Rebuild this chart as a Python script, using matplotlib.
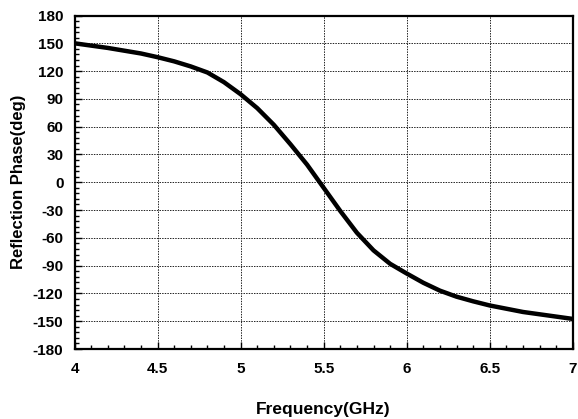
import numpy as np
import matplotlib
matplotlib.use('Agg')
import matplotlib.pyplot as plt
from matplotlib.ticker import MultipleLocator

# values
freq = [4.0, 4.1, 4.2, 4.3, 4.4, 4.5, 4.6, 4.7, 4.8, 4.9, 5.0, 5.1, 5.2,
        5.3, 5.4, 5.5, 5.6, 5.7, 5.8, 5.9, 6.0, 6.1, 6.2, 6.3, 6.4, 6.5,
        6.6, 6.7, 6.8, 6.9, 7.0]
phase = [150, 147.5, 145, 142, 139, 135, 130.5, 125, 118.5, 108, 95, 80, 62,
         41, 19, -6, -31, -54.5, -73.5, -88, -98.5, -108.5, -117, -123.5, -128.5, -133,
         -136.5, -140, -142.5, -145, -147.5]

x_ticks = [4, 4.5, 5, 5.5, 6, 6.5, 7]
x_labels = ['4', '4.5', '5', '5.5', '6', '6.5', '7']
y_ticks = list(range(-180, 181, 30))

plt.rcParams['font.family'] = ['Liberation Sans', 'DejaVu Sans']
plt.rcParams['font.weight'] = 'bold'
plt.rcParams['axes.unicode_minus'] = False

fig = plt.figure(figsize=(5.78, 4.19), dpi=100)
ax = fig.add_axes([0.129, 0.167, 0.862, 0.796])

ax.plot(freq, phase, color='black', linewidth=3.2, solid_joinstyle='round')

ax.set_xlim(4, 7)
ax.set_ylim(-180, 180)
ax.set_xticks(x_ticks)
ax.set_xticklabels(x_labels)
ax.set_yticks(y_ticks)
ax.xaxis.set_minor_locator(MultipleLocator(0.1))
ax.yaxis.set_minor_locator(MultipleLocator(6))

ax.grid(True, which='major', color='#222222', linestyle=(0, (1.5, 1.2)), linewidth=0.7)
ax.tick_params(which='major', direction='in', length=5, width=1, labelsize=11, top=False, right=False)
ax.tick_params(axis='x', which='major', pad=9)
ax.tick_params(axis='y', which='major', pad=8)
ax.tick_params(which='minor', direction='in', length=3, width=1)

for s in ax.spines.values():
    s.set_linewidth(1.6)

ax.set_xlabel('Frequency(GHz)', fontsize=12.5, fontweight='bold', labelpad=19)
ax.set_ylabel('Reflection Phase(deg)', fontsize=12, fontweight='bold', labelpad=5)

fig.savefig('out.png', dpi=100)
